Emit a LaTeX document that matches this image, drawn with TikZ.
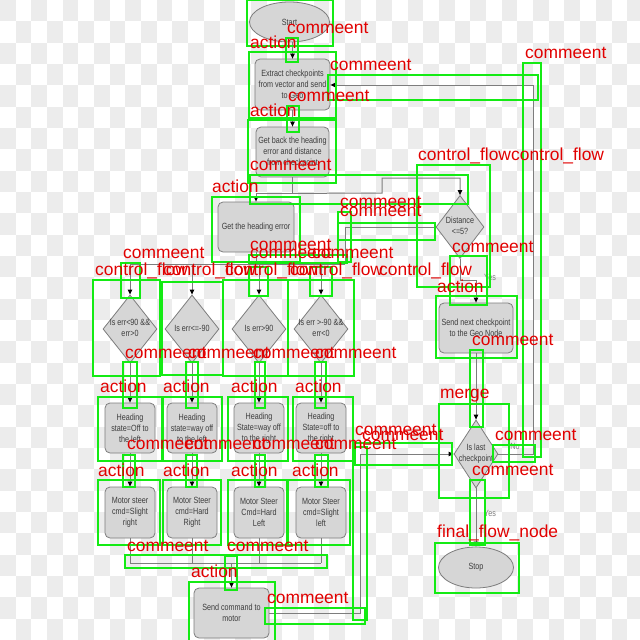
\documentclass[tikz,border=0pt]{standalone}
\usepackage{fontspec}
\setmainfont{Liberation Sans}
\newfontfamily\boxfont[FakeStretch=0.8]{Liberation Sans}
\usetikzlibrary{shapes.geometric,arrows.meta}
\definecolor{checker}{RGB}{236,236,236}
\definecolor{gfill}{RGB}{214,214,214}
\definecolor{gline}{RGB}{125,125,125}
\definecolor{gtext}{RGB}{60,60,60}
\definecolor{anngreen}{RGB}{20,235,20}
\definecolor{annred}{RGB}{225,0,0}
\newcommand\dtxt[1]{\makebox[0pt]{\begin{tabular}{@{}c@{}}#1\end{tabular}}}
\tikzset{
  fbox/.style={draw=gline, fill=gfill, rounded corners=5pt, line width=0.8pt, inner sep=1pt,
    align=center, font=\boxfont\fontsize{9}{11}\selectfont, text=gtext},
  fdia/.style={diamond, draw=gline, fill=gfill, line width=0.8pt, inner sep=0pt,
    font=\boxfont\fontsize{9}{10.5}\selectfont, text=gtext},
  fell/.style={ellipse, draw=gline, fill=gfill, line width=0.8pt, inner sep=0pt,
    font=\boxfont\fontsize{9}{11}\selectfont, text=gtext},
  conn/.style={draw=gline, line width=1pt},
  arr/.style={conn, -{Triangle[length=5pt,width=4.5pt,color=black]}},
  gbox/.style={draw=anngreen, line width=2.6pt},
  lab/.style={text=annred, anchor=base west, inner sep=0pt, font=\fontsize{17.4}{17.4}\selectfont},
  flab/.style={text=gline, inner sep=0pt, font=\boxfont\fontsize{9}{9}\selectfont}
}
\begin{document}
\begin{tikzpicture}[x=1pt,y=-1pt]
\useasboundingbox (0,0) rectangle (640,640);
% checkerboard background
\foreach \i in {0,2,...,40} \foreach \j in {0,2,...,28}
  \fill[checker] (\i*15.68,\j*21.333) rectangle ++(15.68,21.333);
\foreach \i in {1,3,...,39} \foreach \j in {1,3,...,29}
  \fill[checker] (\i*15.68,\j*21.333) rectangle ++(15.68,21.333);

% flowchart nodes
\node[fell, minimum width=80pt, minimum height=40pt] (start) at (289.5,22) {Start};
\node[fbox, minimum width=75pt, minimum height=51pt] (extract) at (292.5,84.5) {Extract checkpoints\\from vector and send\\to Geo};
\node[fbox, minimum width=73pt, minimum height=50pt] (getback) at (292.5,152) {Get back the heading\\error and distance\\from checkpoint};
\node[fbox, minimum width=76pt, minimum height=50pt] (headerr) at (256,227) {Get the heading error};
\node[fdia, minimum width=48pt, minimum height=63pt] (dist) at (460,227) {\dtxt{Distance\\\textless=5?}};
\node[fbox, minimum width=74pt, minimum height=50pt] (sendnext) at (476,328) {Send next checkpoint\\to the Geo Node};
\node[fdia, minimum width=44pt, minimum height=68pt] (islast) at (476,454) {\dtxt{Is last\\checkpoint}};
\node[fell, minimum width=75pt, minimum height=41pt] (stop) at (476,567.5) {Stop};

\node[fdia, minimum width=54pt, minimum height=68pt] (d1) at (130,329) {\dtxt{Is err\textless90 \&\&\\err\textgreater0}};
\node[fdia, minimum width=54pt, minimum height=68pt] (d2) at (192,329) {\dtxt{Is err\textless=-90}};
\node[fdia, minimum width=54pt, minimum height=68pt] (d3) at (259,329) {\dtxt{Is err\textgreater90}};
\node[fdia, minimum width=54pt, minimum height=68pt] (d4) at (321,329) {\dtxt{Is err \textgreater-90 \&\&\\err\textless0}};

\node[fbox, minimum width=50pt, minimum height=50pt] (h1) at (130,428) {Heading\\state=Off to\\the left};
\node[fbox, minimum width=50pt, minimum height=50pt] (h2) at (192,428) {Heading\\state=way off\\to the left};
\node[fbox, minimum width=50pt, minimum height=50pt] (h3) at (259,428) {Heading\\State=way off\\to the right};
\node[fbox, minimum width=50pt, minimum height=50pt] (h4) at (321,428) {Heading\\State=off to\\the right};

\node[fbox, minimum width=50pt, minimum height=51pt] (m1) at (130,512.5) {Motor steer\\cmd=Slight\\right};
\node[fbox, minimum width=50pt, minimum height=51pt] (m2) at (192,512.5) {Motor Steer\\cmd=Hard\\Right};
\node[fbox, minimum width=50pt, minimum height=51pt] (m3) at (259,512.5) {Motor Steer\\Cmd=Hard\\Left};
\node[fbox, minimum width=50pt, minimum height=51pt] (m4) at (321,512.5) {Motor Steer\\cmd=Slight\\left};

\node[fbox, minimum width=75pt, minimum height=50pt] (sendcmd) at (231.5,613) {Send command to\\motor};

% helper coordinates
\path (getback.south) ++(0,16) coordinate (j1);
\coordinate (j2) at (382,193);
\coordinate (j3) at (382,178);
\coordinate (bus1L) at (130,264);
\coordinate (bus1R) at (345,264);
\coordinate (b2L) at (130,563);
\coordinate (b2R) at (321,563);
\coordinate (r1) at (533,85);
\coordinate (r2) at (360,613);

% connectors
\draw[arr] (extract.north |- start.south) -- (extract.north);
\draw[arr] (extract.south) -- (getback.north);
\draw[conn] (getback.south) -- (j1);
\draw[arr] (j1) -| (headerr.north);
\draw[arr] (j1) -- (j2) -- (j3) -| (dist.north);
\draw[conn] (headerr.south) -- (headerr.south |- bus1L);
\draw[conn] (dist.west) -| (bus1R);
\draw[conn] (bus1L) -- (bus1R);
\foreach \d in {d1,d2,d3,d4} \draw[arr] (\d.north |- bus1L) -- (\d.north);
\draw[arr] (dist.south) -- ++(0,22) -| (sendnext.north);
\node[flab] (yes1) at (490,277) {Yes};
\draw[arr] (sendnext.south) -- (islast.north);
\draw[arr] (islast.south) -- (stop.north);
\node[flab] (yes2) at (490,513) {Yes};
\draw[arr] (islast.east) -| (r1) -- (extract.east |- r1);
\node[flab] (no1) at (515,446) {No};
\foreach \n in {1,2,3,4} {
  \draw[arr] (d\n.south) -- (h\n.north);
  \draw[arr] (h\n.south) -- (m\n.north);
  \draw[conn] (m\n.south) -- (m\n.south |- b2L);
}
\draw[conn] (b2L) -- (b2R);
\draw[arr] (sendcmd.north |- b2L) -- (sendcmd.north);
\draw[arr] (sendcmd.east) -- (r2) |- (islast.west);

% annotation boxes
\foreach \a/\b/\c/\d in {
  247/0/333/46, 286/38/298/62, 249/52/336/118, 328/75/538/100, 523/63/541/457,
  287/106/299/132, 248/120/336/183, 250/175/468/204, 212/197/300/262,
  417/165/490/287, 338/212/351/262, 338/223/435/240, 450/256/487/305,
  436/296/517/358, 470/350/483/427, 439/404/509/498, 493/445/535/462,
  470/480/485/545, 435/543/519/593, 355/443/452/465, 353/447/367/620,
  265/608/365/624, 249/255/347/263, 121/263/140/298, 249/267/268/296,
  310/267/332/296,
  93/280/160/376, 162/282/223/375, 223/280/288/376, 288/280/354/376,
  123/362/137/408, 186/362/198/408, 255/362/265/408, 315/362/326/408,
  98/397/162/461, 163/397/222/461, 228/397/288/461, 293/397/353/461,
  123/455/135/487, 186/455/197/487, 255/455/265/487, 315/455/328/487,
  98/480/160/545, 163/480/221/545, 228/480/287/545, 288/480/350/545,
  125/555/327/568, 225/556/237/590, 189/582/275/642}
  \draw[gbox] (\a,\b) rectangle (\c,\d);

% annotation labels
\foreach \x/\y/\t in {
  287/33/commeent, 250/48/action, 525/58/commeent, 330/70/commeent,
  288/101/commeent, 250/116/action, 418/160/control\_flow, 511/160/control\_flow,
  250/170/commeent, 212/192/action, 340/207/commeent, 340/216/commeent,
  452/252/commeent, 250/250/commeent, 250/258/commeent, 312/258/commeent,
  123/258/commeent,
  95/275/control\_flow, 163/275/control\_flow, 225/275/control\_flow,
  290/275/control\_flow, 379/275/control\_flow,
  437/292/action, 472/345/commeent,
  125/358/commeent, 188/358/commeent, 253/358/commeent, 315/358/commeent,
  100/392/action, 163/392/action, 231/392/action, 295/392/action,
  440/398/merge, 355/435/commeent, 362/440/commeent, 495/440/commeent,
  127/449/commeent, 185/449/commeent, 253/449/commeent, 315/449/commeent,
  472/475/commeent,
  98/476/action, 163/476/action, 231/476/action, 292/476/action,
  437/537/final\_flow\_node, 127/551/commeent, 227/551/commeent,
  191/577/action, 267/603/commeent}
  \node[lab] at (\x,\y) {\t};
\end{tikzpicture}
\end{document}
